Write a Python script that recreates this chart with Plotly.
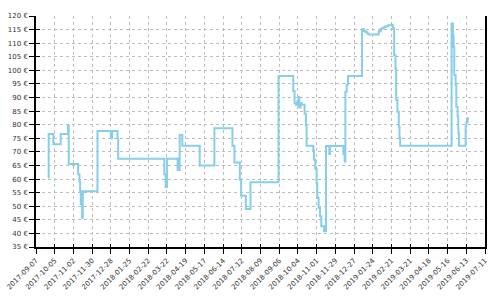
import plotly.graph_objects as go

dates = [
    "2017-09-25", "2017-09-26", "2017-10-03", "2017-10-14", "2017-10-25", "2017-10-26",
    "2017-11-09", "2017-11-11", "2017-11-12", "2017-11-13", "2017-11-15", "2017-11-16",
    "2017-12-08", "2017-12-28", "2017-12-30", "2018-01-07", "2018-01-08",
    "2018-03-18", "2018-03-20", "2018-03-22", "2018-04-07", "2018-04-10", "2018-04-14",
    "2018-05-10", "2018-06-01", "2018-06-28", "2018-07-01", "2018-07-09", "2018-07-11",
    "2018-07-18", "2018-07-25", "2018-09-05", "2018-09-27", "2018-09-29", "2018-10-01",
    "2018-10-03", "2018-10-05", "2018-10-06", "2018-10-08", "2018-10-10", "2018-10-14",
    "2018-10-16", "2018-10-17", "2018-10-27", "2018-10-28", "2018-10-30", "2018-11-01",
    "2018-11-02", "2018-11-04", "2018-11-06", "2018-11-08", "2018-11-12", "2018-11-15",
    "2018-11-20", "2018-11-21", "2018-12-11", "2018-12-13", "2018-12-14", "2018-12-16",
    "2018-12-18", "2019-01-08", "2019-01-11", "2019-01-13", "2019-01-16", "2019-01-18",
    "2019-02-02", "2019-02-05", "2019-02-09", "2019-02-12", "2019-02-16", "2019-02-21",
    "2019-02-23", "2019-02-25", "2019-02-27", "2019-02-28", "2019-03-02", "2019-03-04",
    "2019-03-05", "2019-03-06", "2019-05-22", "2019-05-24", "2019-05-25", "2019-05-26",
    "2019-05-28", "2019-05-29", "2019-05-31", "2019-06-01", "2019-06-02", "2019-06-12",
    "2019-06-13", "2019-06-15", "2019-06-17",
]
prices = [
    60.6, 76.6, 72.8, 76.6, 79.6, 65.5,
    61.8, 59.1, 55.5, 50.8, 45.7, 55.5,
    77.7, 75.0, 77.7, 75.0, 67.5,
    61.8, 57.1, 67.5, 63.3, 76.2, 72.3,
    65.0, 78.7, 72.3, 66.1, 59.8, 53.9,
    49.0, 58.8, 97.9, 92.4, 87.9, 87.3,
    88.5, 90.3, 86.3, 87.9, 87.3, 84.0,
    79.9, 72.3, 70.5, 67.1, 63.7, 58.5,
    53.0, 49.4, 46.3, 42.6, 40.8, 72.2,
    69.2, 72.2, 69.2, 66.5, 92.1, 94.8,
    97.9, 115.1, 114.5, 114.1, 113.5, 113.2,
    114.4, 115.4, 115.9, 116.2, 116.6, 116.8,
    115.4, 105.6, 100.7, 89.1, 84.8, 79.3,
    75.0, 72.3, 117.2, 112.9, 108.6, 98.3,
    94.6, 86.6, 83.0, 77.0, 72.3, 79.3,
    80.9, 82.4, 82.4,
]

x_start = "2017-09-07"
x_end = "2019-07-11"
tick_days = 28
y_min, y_max, y_step = 35, 120, 5
ms_day = 86400000

font = dict(family="DejaVu Sans", size=7, color="#333")
xfont = dict(family="DejaVu Sans", size=7, color="#333")

fig = go.Figure()
fig.add_trace(go.Scatter(
    x=dates, y=prices, mode="lines",
    line=dict(color="#87ceeb", width=2, shape="hv"),
    hoverinfo="skip", showlegend=False,
))
# invisible trace to hold the overlay axes (inner halves of the ticks)
fig.add_trace(go.Scatter(x=[dates[0]], y=[prices[0]], xaxis="x2", yaxis="y2",
                         mode="markers", marker=dict(opacity=0), showlegend=False,
                         hoverinfo="skip"))

grid = dict(showgrid=True, gridcolor="#bdbdbd", gridwidth=1, griddash="3px,3px")

fig.update_layout(
    width=500, height=300,
    margin=dict(l=36, r=15, t=15.5, b=52.5),
    paper_bgcolor="white", plot_bgcolor="white",
    font=font,
    xaxis=dict(
        type="date", range=[x_start, x_end], automargin=False,
        tick0=x_start, dtick=tick_days * ms_day, tickformat="%Y-%m-%d",
        tickangle=-45, ticks="outside", ticklen=5, tickcolor="black", tickwidth=1,
        showline=True, linecolor="black", linewidth=1.5, mirror=False,
        zeroline=False, tickfont=xfont, **grid,
    ),
    yaxis=dict(
        range=[y_min, y_max], tick0=y_min, dtick=y_step, ticksuffix=" €",
        automargin=False,
        ticks="outside", ticklen=5, tickcolor="black", tickwidth=1,
        showline=True, linecolor="black", linewidth=1.5, mirror=True,
        zeroline=False, tickfont=font, **grid,
    ),
    xaxis2=dict(
        type="date", range=[x_start, x_end], overlaying="x", anchor="y",
        automargin=False,
        tick0=x_start, dtick=tick_days * ms_day, ticks="inside", ticklen=3,
        tickcolor="black", showticklabels=False, showgrid=False, showline=False,
        zeroline=False,
    ),
    yaxis2=dict(
        range=[y_min, y_max], overlaying="y", anchor="x", side="left",
        automargin=False,
        tick0=y_min, dtick=y_step, ticks="inside", ticklen=4,
        tickcolor="black", showticklabels=False, showgrid=False, showline=False,
        zeroline=False,
    ),
)

fig.write_html("out.html")
